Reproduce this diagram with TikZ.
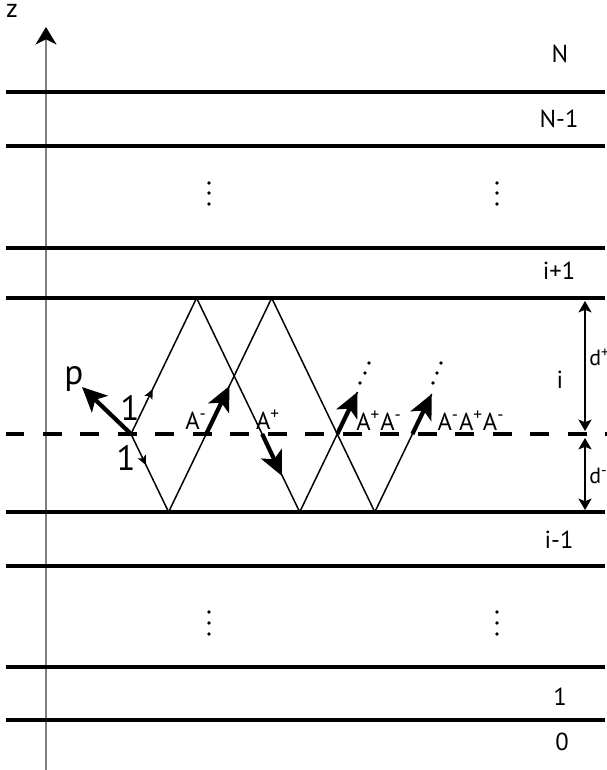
\documentclass[tikz,border=0pt]{standalone}
\usepackage{fontspec}
\setmainfont{PT Sans}
\usetikzlibrary{arrows.meta, decorations.markings}

\begin{document}
\begin{tikzpicture}[x=0.02cm, y=-0.02cm,
    layer/.style={line width=2pt},
    ray/.style={line width=0.85pt},
    amp/.style={line width=2.4pt, -{Stealth[length=14pt,width=13pt,inset=3.5pt]}},
    dim/.style={line width=0.7pt, {Stealth[length=6.5pt,width=7.5pt,inset=1.5pt]}-{Stealth[length=6.5pt,width=7.5pt,inset=1.5pt]}},
    midtip/.style={postaction={decorate}, decoration={markings,
        mark=at position #1 with {\arrow{Stealth[length=5.5pt,width=5pt,inset=1.3pt]}}}},
    lab/.style={font=\fontsize{14}{16}\selectfont, anchor=base, inner sep=0pt},
    biglab/.style={font=\fontsize{20}{22}\selectfont, anchor=base, inner sep=0pt},
    dlab/.style={font=\fontsize{12.5}{14}\selectfont, anchor=base west, inner sep=0pt},
  ]
    \useasboundingbox (0,0) rectangle (607,770);

    %=====================
    % z axis
    %=====================
    \draw[gray, line width=1.2pt, -{Stealth[length=10pt,width=12pt,inset=3pt,color=black]}]
    (46,770) -- (46,27);
    \node[lab, font=\fontsize{15}{17}\selectfont] (zlab) at (12,18) {z};

    %=====================
    % Layer interfaces
    %=====================
    \foreach \yy in {92,146,248,298,512,566,667,720}
        \draw[layer] (6,\yy) -- (605,\yy);

    % source plane
    \draw[layer, dash pattern=on 0.38cm off 0.37cm] (5.5,434) -- (607,434);

    %=====================
    % Layer numbers
    %=====================
    \node[lab] (lN)   at (560,63)  {N};
    \node[lab] (lNm)  at (559,128) {N-1};
    \node[lab] (lip)  at (559,279) {i+1};
    \node[lab] (li)   at (560,388) {i};
    \node[lab] (lim)  at (559,548) {i-1};
    \node[lab] (lone) at (560,705) {1};
    \node[lab] (lnul) at (562,750) {0};

    % dots
    \foreach \xx in {209,497}
        \foreach \yy in {183,193,204,612,623,634}
            \fill (\xx,\yy) circle[radius=1.1pt];

    %=====================
    % Multiple reflections
    %=====================
    \coordinate (S)  at (131,434);
    \coordinate (T1) at (196.6,298);
    \coordinate (B1) at (168.6,512);
    \coordinate (B2) at (299.7,512);
    \coordinate (T2) at (271.7,298);
    \coordinate (B3) at (374.8,512);
    \coordinate (E1) at (357.5,392);
    \coordinate (E2) at (431.7,394);

    % up-going ray
    \draw[ray, midtip=0.33] (S) -- (T1);
    \draw[ray] (T1) -- (B2) -- (E1);
    % down-going ray
    \draw[ray, midtip=0.4] (S) -- (B1);
    \draw[ray] (B1) -- (T2) -- (B3) -- (E2);

    % amplitudes
    \coordinate (A1s) at (206.2,434);
    \coordinate (A1e) at (229.4,386);
    \coordinate (A2s) at (262.2,434);
    \coordinate (A2e) at (282,476);
    \coordinate (A3s) at (337.3,434);
    \coordinate (A4s) at (412.4,434);
    \draw[amp] (A1s) -- (A1e);
    \draw[amp] (A2s) -- (A2e);
    \draw[amp] (A3s) -- (E1);
    \draw[amp] (A4s) -- (E2);

    % continuation
    \foreach \xx/\yy in {360/383,365/373,369/363,433/383,437/373,441/363}
        \fill (\xx,\yy) circle[radius=1.1pt];

    % point source
    \coordinate (P) at (82,387);
    \draw[amp] (S) -- (P);
    \node[biglab] (plab) at (74,384) {p};
    \node[biglab] (oneup) at (130,420) {1};
    \node[biglab] (onedn) at (126,470) {1};

    \node[lab] (am)   at (196,429) {A\textsuperscript{-}};
    \node[lab] (ap)   at (268,429) {A\textsuperscript{+}};
    \node[lab] (apm)  at (379,430) {A\textsuperscript{+}A\textsuperscript{-}};
    \node[lab] (ampm) at (471,430) {A\textsuperscript{-}A\textsuperscript{+}A\textsuperscript{-}};

    %=====================
    % Distances
    %=====================
    \coordinate (D1) at (585,301);
    \coordinate (D2) at (585,431);
    \coordinate (D3) at (585,438);
    \coordinate (D4) at (585,510);
    \draw[dim] (D1) -- (D2);
    \draw[dim] (D3) -- (D4);
    \node[dlab] (dup) at (589,365) {d\textsuperscript{+}};
    \node[dlab] (ddn) at (589,483) {d\textsuperscript{-}};

\end{tikzpicture}
\end{document}
